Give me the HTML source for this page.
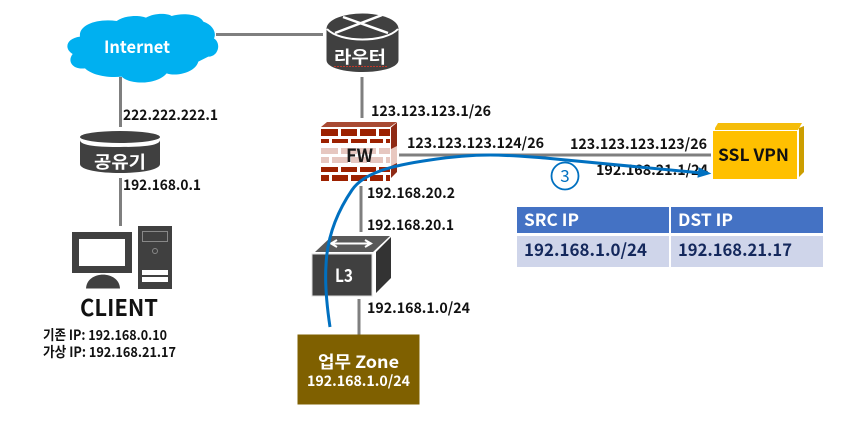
<!DOCTYPE html>
<html><head><meta charset="utf-8"><style>
html,body{margin:0;padding:0;background:#fff;width:860px;height:438px;overflow:hidden}
svg{display:block}
text{font-family:"Noto Sans CJK KR","Liberation Sans",sans-serif;font-weight:700;fill:#111}
.w{fill:#fff}
</style></head><body>
<svg width="860" height="438" viewBox="0 0 860 438" xmlns="http://www.w3.org/2000/svg">
<g stroke="#7f7f7f" stroke-width="3" fill="none">
<path d="M216 34.500H323"/><path d="M120.500 77V127"/><path d="M120.500 178V226"/>
<path d="M362 77V118"/><path d="M361 186V232"/><path d="M359 299V335"/><path d="M399 155H711"/>
</g>
<!-- cloud -->
<path transform="translate(60,5) scale(.3333)" fill="#00b0f0" d="M60 95C55 60 110 40 170 48C195 30 240 30 258 38C285 22 325 25 335 33C370 22 420 28 430 50C460 60 470 85 462 100C485 115 475 155 445 155L415 170C405 205 345 215 320 205C290 240 210 240 185 215C130 220 90 205 75 190C40 195 20 170 38 147C10 130 20 100 60 95Z"/>
<text x="104" y="53" class="w" font-size="17" textLength="66" lengthAdjust="spacingAndGlyphs">Internet</text>
<!-- sharer -->
<path d="M80 140V164C80 170 100 173 120 173S160 170 160 164V140C160 146 140 147 120 147S80 146 80 140Z" fill="#404040"/>
<ellipse cx="120" cy="137" rx="40" ry="6" fill="#404040"/>
<text x="94" y="168" class="w" font-size="17" textLength="52" lengthAdjust="spacingAndGlyphs">공유기</text>
<!-- router -->
<path d="M326.500 29C326.500 19 345 13.500 362.500 13.500S398.500 19 398.500 29V60C398.500 68 380 72 362.500 72S326.500 68 326.500 60Z" fill="#404040"/>
<path d="M327 29C340 43 385 43 398 29" stroke="#fff" stroke-width="2" fill="none"/>
<path d="M343 17L388 33M382 15L335 33" stroke="#fff" stroke-width="2.500" fill="none"/>
<text x="334" y="63" class="w" font-size="17" textLength="52" lengthAdjust="spacingAndGlyphs">라우터</text>
<path d="M334 66.500H387" stroke="#c0392b" stroke-width="1" stroke-dasharray="2 1" fill="none"/>
<!-- firewall -->
<path d="M321 127L327 122H397L390 127Z" fill="#a84a33"/>
<path d="M391 127.500L397 122.500V172L391 178Z" fill="#8f2a15"/>
<path d="M391 149L397 146V163L391 166Z" fill="#e8c8c0"/>
<g fill="#9c2100">
<rect x="321" y="129" width="17" height="7"/><rect x="341" y="129" width="16" height="7"/><rect x="360" y="129" width="16" height="7"/><rect x="379" y="129" width="11" height="7"/>
<rect x="321" y="139" width="8" height="4"/><rect x="332" y="139" width="16" height="4"/><rect x="351" y="139" width="16" height="4"/><rect x="370" y="139" width="13" height="4"/><rect x="386" y="139" width="4" height="4"/>
<rect x="321" y="167" width="17" height="5"/><rect x="341" y="167" width="16" height="5"/><rect x="360" y="167" width="16" height="5"/><rect x="379" y="167" width="11" height="5"/>
<rect x="321" y="175" width="8" height="6"/><rect x="332" y="175" width="16" height="6"/><rect x="351" y="175" width="16" height="6"/><rect x="370" y="175" width="13" height="6"/><rect x="386" y="175" width="4" height="6"/>
</g>
<g fill="#e6c7c0">
<rect x="321" y="148" width="17" height="6"/><rect x="341" y="148" width="16" height="6"/><rect x="360" y="148" width="16" height="6"/><rect x="379" y="148" width="11" height="6"/>
<rect x="321" y="157" width="8" height="6"/><rect x="332" y="157" width="16" height="6"/><rect x="351" y="157" width="16" height="6"/><rect x="370" y="157" width="13" height="6"/><rect x="386" y="157" width="4" height="6"/>
</g>
<text x="346" y="162" font-size="18" textLength="27" lengthAdjust="spacingAndGlyphs" style="font-weight:700;fill:#1a1a1a">FW</text>
<!-- L3 -->
<path d="M315 252L332 236H390L373 252Z" fill="#595959"/>
<path d="M376 252L391 237V278L376 293Z" fill="#333"/>
<rect x="312" y="254" width="60" height="42" fill="#404040" stroke="#ddd" stroke-width="1"/>
<path d="M333 243.500H369M337 240L331 243.500L337 247M365 240L371 243.500L365 247" stroke="#fff" stroke-width="2" fill="none"/>
<text x="335" y="282" class="w" font-size="18" textLength="18" lengthAdjust="spacingAndGlyphs">L3</text>
<!-- zone -->
<rect x="297.500" y="334.500" width="122" height="70" fill="#7f6000"/>
<text x="318" y="368" class="w" font-size="17" textLength="81" lengthAdjust="spacingAndGlyphs">업무 Zone</text>
<text x="307" y="386" class="w" font-size="14.500" textLength="103" lengthAdjust="spacingAndGlyphs">192.168.1.0/24</text>
<!-- vpn -->
<path d="M715 128L718 123H802L798 130H715Z" fill="#f5bd0a"/>
<path d="M799 128L804 126V172L799 177Z" fill="#cc9e00"/>
<rect x="713" y="131" width="84" height="48" fill="#ffc000"/>
<text x="718" y="161" font-size="17" textLength="71" lengthAdjust="spacingAndGlyphs">SSL VPN</text>
<!-- client -->
<rect x="72" y="232" width="60" height="41" fill="#404040"/><rect x="79" y="239" width="46" height="27" fill="#fff"/>
<path d="M86 288.500C87 270 119 270 120 288.500Z" fill="#404040"/>
<rect x="138" y="226" width="34" height="63" fill="#404040"/>
<rect x="142.500" y="231.500" width="25" height="10" fill="none" stroke="#888" stroke-width="1"/>
<circle cx="155" cy="251" r="2.500" fill="none" stroke="#888"/>
<rect x="142" y="270" width="26" height="5" fill="#fff"/><rect x="142" y="277" width="26" height="5" fill="#fff"/>
<text x="80" y="316" font-size="23" textLength="78" lengthAdjust="spacingAndGlyphs">CLIENT</text>
<text x="43" y="340" font-size="14" textLength="124" lengthAdjust="spacingAndGlyphs">기존 IP: 192.168.0.10</text>
<text x="43" y="357" font-size="14" textLength="133" lengthAdjust="spacingAndGlyphs">가상 IP: 192.168.21.17</text>
<!-- labels -->
<text x="123" y="120" font-size="14.500" textLength="95" lengthAdjust="spacingAndGlyphs">222.222.222.1</text>
<text x="123" y="190" font-size="14.500" textLength="78" lengthAdjust="spacingAndGlyphs">192.168.0.1</text>
<text x="371" y="116" font-size="14.500" textLength="120" lengthAdjust="spacingAndGlyphs">123.123.123.1/26</text>
<text x="407" y="148" font-size="14.500" textLength="137" lengthAdjust="spacingAndGlyphs">123.123.123.124/26</text>
<text x="570" y="149" font-size="14.500" textLength="137" lengthAdjust="spacingAndGlyphs">123.123.123.123/26</text>
<text x="596" y="175" font-size="14.500" textLength="112" lengthAdjust="spacingAndGlyphs">192.168.21.1/24</text>
<text x="367" y="198" font-size="14.500" textLength="88" lengthAdjust="spacingAndGlyphs">192.168.20.2</text>
<text x="367" y="230" font-size="14.500" textLength="87" lengthAdjust="spacingAndGlyphs">192.168.20.1</text>
<text x="367" y="313" font-size="14.500" textLength="103" lengthAdjust="spacingAndGlyphs">192.168.1.0/24</text>
<!-- blue curve -->
<path d="M330 327C326 300 325 280 326 265C327 240 335 215 352 190C364 172 395 165 430 160C450 157 470 155 490 155C510 155 530 157 545 158L702 173" fill="none" stroke="#0070c0" stroke-width="3"/>
<path d="M710 173.500L699 168L698 177Z" fill="#0070c0" stroke="#0070c0"/>
<circle cx="565" cy="176" r="13.500" fill="none" stroke="#0070c0" stroke-width="1.800"/>
<text x="565" y="182" font-size="17" text-anchor="middle" style="fill:#0070c0;font-weight:400">3</text>
<!-- table -->
<rect x="517" y="207" width="152" height="26" fill="#4472c4"/><rect x="671" y="207" width="152" height="26" fill="#4472c4"/>
<rect x="517" y="236" width="152" height="31" fill="#cfd5ea"/><rect x="671" y="236" width="152" height="31" fill="#cfd5ea"/>
<text x="524" y="226" class="w" font-size="17" textLength="55" lengthAdjust="spacingAndGlyphs">SRC IP</text>
<text x="678" y="226" class="w" font-size="17" textLength="55" lengthAdjust="spacingAndGlyphs">DST IP</text>
<text x="524" y="256" font-size="17" textLength="123" lengthAdjust="spacingAndGlyphs" style="fill:#14285c">192.168.1.0/24</text>
<text x="678" y="256" font-size="17" textLength="114" lengthAdjust="spacingAndGlyphs" style="fill:#14285c">192.168.21.17</text>
</svg>
</body></html>
